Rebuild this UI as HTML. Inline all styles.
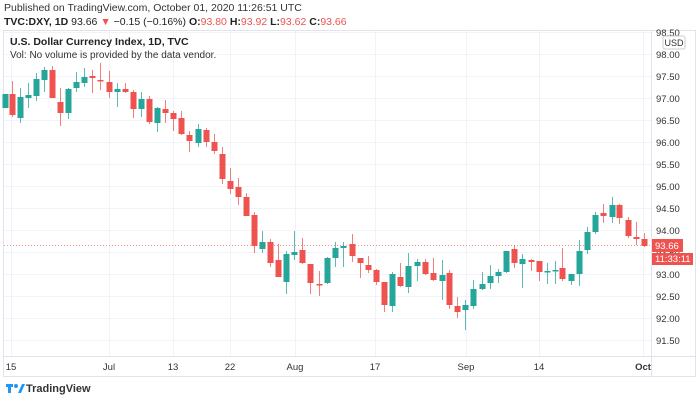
<!DOCTYPE html>
<html><head><meta charset="utf-8"><style>
body{margin:0;background:#fff;width:700px;height:402px;overflow:hidden;font-family:"Liberation Sans",sans-serif}
svg{display:block}
</style></head><body>
<svg id="s" width="700" height="402" xmlns="http://www.w3.org/2000/svg" font-family="Liberation Sans, sans-serif">
<rect width="700" height="402" fill="#fff"/>
<text x="4" y="11" font-size="10.5" fill="#333">Published on TradingView.com, October 01, 2020 11:26:51 UTC</text>
<text x="4" y="25" font-size="10.5" fill="#222"><tspan font-weight="bold">TVC:DXY, 1D</tspan> 93.66 <tspan fill="#ef5350">▼</tspan> −0.15 (−0.16%) <tspan font-weight="bold">O:</tspan><tspan fill="#ef5350">93.80</tspan> <tspan font-weight="bold">H:</tspan><tspan fill="#ef5350">93.92</tspan> <tspan font-weight="bold">L:</tspan><tspan fill="#ef5350">93.62</tspan> <tspan font-weight="bold">C:</tspan><tspan fill="#ef5350">93.66</tspan></text>
<rect x="3.5" y="30.5" width="692" height="346" fill="none" stroke="#e0e3eb"/>
<line x1="3" y1="356.5" x2="696" y2="356.5" stroke="#e0e3eb"/>
<line x1="651.5" y1="30" x2="651.5" y2="377" stroke="#e0e3eb"/>
<g id="grid"></g>
<g id="c"></g>
<line x1="4" y1="245.5" x2="651" y2="245.5" stroke="#ef5350" stroke-dasharray="1,2" opacity="0.6"/>
<text x="10" y="45" font-size="10.5" fill="#222" font-weight="bold">U.S. Dollar Currency Index, 1D, TVC</text>
<text x="10" y="58" font-size="10" fill="#333">Vol: No volume is provided by the data vendor.</text>
<g id="ax" font-size="9.5" fill="#333"></g>
<rect x="663" y="36" width="22" height="13" rx="2" fill="#fff" stroke="#ccc"/>
<text x="674" y="46" font-size="9" fill="#333" text-anchor="middle">USD</text>
<rect x="652" y="239" width="31" height="13" fill="#ef5350"/>
<text x="655" y="249" font-size="9.5" fill="#fff">93.66</text>
<rect x="652" y="253" width="41" height="12" fill="#ef5350"/>
<text x="655" y="262" font-size="9.5" fill="#fff">11:33:11</text>
<g transform="translate(6,382)"><rect x="0" y="2" width="7" height="3" fill="#2196f3"/><rect x="2" y="2" width="3" height="9" fill="#2196f3"/><circle cx="10" cy="4" r="2" fill="#2196f3"/><path d="M12 11 L16 2 L19 2 L15 11Z" fill="#2196f3"/></g>
<text x="26" y="392" font-size="11" fill="#333" font-weight="bold">TradingView</text>
</svg>
<script>
var ns="http://www.w3.org/2000/svg";
function el(p,t,a,txt){var e=document.createElementNS(ns,t);for(var k in a)e.setAttribute(k,a[k]);if(txt)e.textContent=txt;document.getElementById(p).appendChild(e);}
for(var i=0;i<15;i++){var p=98.5-0.5*i,y=32+22*i;el('grid','line',{x1:4,x2:651,y1:y+.5,y2:y+.5,stroke:'#f0f3fa'});el('ax','text',{x:656,y:y+4},p.toFixed(2));}
var xs=[[11,'15'],[109,'Jul'],[173,'13'],[230,'22'],[295,'Aug'],[375,'17'],[466,'Sep'],[539,'14'],[643,'Oct']];
xs.forEach(function(v){el('grid','line',{x1:v[0]+.5,x2:v[0]+.5,y1:31,y2:356,stroke:'#f0f3fa'});el('ax','text',{x:v[0],y:370,'text-anchor':'middle','font-weight':v[1]=='Oct'?'bold':'normal'},v[1]);});
// x,color,bodyTop,bodyBot,wickTop,wickBot
var d=[[5,'g',94,108,94,108],[12,'r',94,115,81,117],[20,'g',97,118,88,123],[28,'g',95,98,83,108],[36,'g',79,96,73,101],[44,'g',70,80,67,92],[52,'r',70,98,66,98],[60,'r',102,113,88,126],[68,'g',89,113,88,119],[76,'g',82,88,72,92],[84,'g',77,83,68,87],[92,'r',76,78,70,93],[100,'r',80,81,63,90],[109,'r',82,92,71,98],[117,'g',89,92,83,107],[125,'r',89,92,83,93],[133,'r',92,109,90,118],[141,'g',99,109,92,117],[149,'r',99,122,96,124],[157,'g',108,123,107,132],[165,'r',109,113,100,123],[173,'r',113,119,111,131],[181,'r',118,134,111,135],[189,'r',135,141,131,152],[198,'g',129,143,124,147],[206,'r',130,142,128,147],[214,'r',142,151,134,154],[222,'r',154,179,147,184],[230,'r',181,189,168,194],[238,'r',187,197,178,205],[246,'r',197,216,193,216],[254,'r',215,246,212,253],[262,'g',242,249,231,253],[270,'r',242,263,239,267],[278,'r',260,277,244,277],[286,'g',254,282,251,294],[294,'g',252,255,231,260],[302,'r',250,263,238,264],[310,'r',264,283,264,294],[319,'r',284,285,271,296],[327,'g',258,283,257,284],[335,'g',248,258,242,267],[343,'g',246,248,242,267],[352,'r',244,256,234,262],[360,'r',258,263,258,278],[368,'r',265,270,256,273],[376,'r',270,282,269,285],[384,'r',282,305,282,312],[392,'g',274,306,272,312],[400,'r',277,286,263,287],[408,'g',266,287,253,293],[417,'g',262,266,259,281],[425,'r',262,274,259,275],[433,'r',273,280,258,281],[442,'g',275,281,260,300],[449,'r',273,305,270,309],[457,'r',306,312,297,318],[465,'g',305,310,300,330],[473,'g',289,306,280,309],[482,'g',284,289,272,290],[490,'g',276,283,265,289],[498,'g',272,276,269,283],[506,'g',251,272,251,273],[514,'r',249,263,245,268],[522,'g',259,264,254,288],[531,'r',260,262,259,271],[539,'r',261,272,261,281],[547,'g',271,272,263,284],[555,'g',270,271,261,284],[562,'r',268,279,248,281],[571,'g',274,281,274,285],[579,'g',251,274,240,286],[587,'g',232,250,227,254],[595,'g',215,232,212,234],[603,'r',213,216,204,223],[612,'g',205,217,197,223],[619,'r',205,218,204,224],[628,'r',220,236,217,238],[636,'r',237,239,222,245],[644,'r',239,246,233,247]];
d.forEach(function(c){var col=c[1]=='g'?'#26a69a':'#ef5350';
el('c','line',{x1:c[0]+.5,x2:c[0]+.5,y1:c[4],y2:c[5],stroke:col,opacity:.75});
el('c','rect',{x:c[0]-2.5,y:c[2],width:6,height:Math.max(1.5,c[3]-c[2]),fill:col});});
</script>
</body></html>
